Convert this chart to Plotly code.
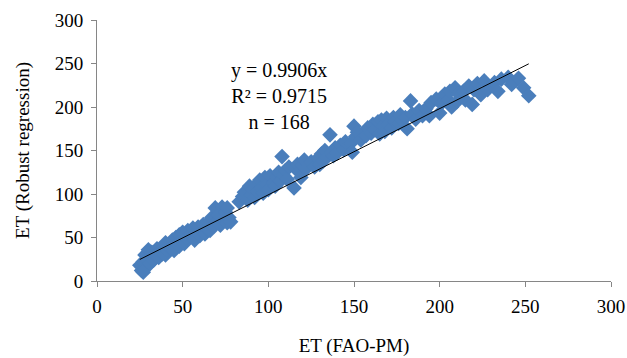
import plotly.graph_objects as go

# ET (FAO-PM) values
et_fao = [
    25, 26, 27, 28, 28, 29, 30, 31, 32, 33, 34, 35, 36, 37, 38, 39, 40, 40, 41, 27,
    42, 43, 44, 45, 46, 48, 48, 49, 50, 51, 52, 53, 55, 56, 57, 58, 59, 60, 62, 63, 64, 65,
    66, 67, 68, 69, 70, 71, 72, 73, 74, 75, 76, 76, 77, 78,
    83, 85, 86, 88, 89, 90, 91, 92, 93, 94, 95, 96, 97, 98, 99, 100, 101, 103,
    104, 105, 106, 107, 108, 109, 110, 111, 112, 115, 116, 117, 118, 119, 120, 121, 122, 125, 127, 129,
    130, 131, 132, 133, 134, 136, 137, 138, 139, 140, 142, 144, 145, 148, 149, 150, 151, 152, 154, 157, 158, 160,
    161, 162, 164, 165, 166, 167, 168, 169, 170, 172, 173, 174, 176, 177, 178, 180, 181, 183, 184, 186, 188, 190,
    192, 194, 195, 198, 200, 201, 203, 205, 206, 207, 209, 210, 211, 214, 215, 217, 219, 220, 222, 224,
    226, 228, 232, 234, 236, 240, 242, 246, 249, 252,
]
# ET (Robust regression) values
et_robust = [
    18, 12, 22, 15, 30, 25, 36, 20, 33, 24, 30, 37, 27, 35, 31, 40, 30, 44, 36, 10,
    42, 38, 47, 35, 50, 40, 53, 47, 56, 43, 50, 58, 54, 61, 47, 56, 62, 52, 65, 54, 60, 67,
    58, 73, 63, 84, 68, 76, 64, 85, 70, 79, 67, 84, 73, 68,
    91, 97, 102, 93, 109, 99, 105, 96, 111, 103, 116, 107, 101, 119, 111, 105, 121, 113,
    109, 119, 125, 115, 143, 121, 127, 117, 131, 107, 129, 134, 125, 119, 133, 139, 129, 137, 131, 141,
    134, 146, 138, 150, 142, 168, 148, 144, 153, 147, 156, 151, 160, 158, 148, 178, 166, 171, 162, 167, 176, 170,
    180, 174, 183, 169, 185, 178, 172, 187, 180, 176, 188, 183, 181, 191, 185, 188, 175, 207, 192, 186, 196, 190,
    198, 190, 205, 209, 193, 204, 215, 208, 218, 200, 222, 206, 215, 218, 208, 224, 203, 220, 227, 214,
    230, 220, 228, 218, 232, 234, 226, 233, 222, 213,
]

slope = 0.9906
r2 = 0.9715
n_obs = 168

axis_ticks = [0, 50, 100, 150, 200, 250, 300]

x_line = [min(et_fao), max(et_fao)]
y_line = [slope * v for v in x_line]

font_family = "Liberation Serif, Times New Roman, serif"

fig = go.Figure()
fig.add_trace(go.Scatter(
    x=et_fao, y=et_robust, mode="markers",
    marker=dict(symbol="diamond", size=12, color="#4A7EBB", line=dict(width=0)),
    showlegend=False, hoverinfo="skip",
))
fig.add_trace(go.Scatter(
    x=x_line, y=y_line, mode="lines",
    line=dict(color="black", width=1),
    showlegend=False, hoverinfo="skip",
))

fig.add_annotation(
    x=106, y=213, xref="x", yref="y",
    text=f"y = {slope}x<br>R² = {r2}<br>n = {n_obs}",
    showarrow=False, align="center", xanchor="center", yanchor="middle",
    font=dict(family=font_family, size=20, color="black"),
)

axis_common = dict(
    range=[0, 300], tickvals=axis_ticks, ticktext=[str(v) for v in axis_ticks],
    showgrid=False, zeroline=False, showline=True, linecolor="#868686", linewidth=1,
    ticks="outside", ticklen=5, tickcolor="#868686", tickwidth=1,
    tickfont=dict(family=font_family, size=19, color="black"),
    title_font=dict(family=font_family, size=19, color="black"),
    automargin=False,
)

fig.update_xaxes(**axis_common, title_text="ET (FAO-PM)", title_standoff=22,
                 ticklabelstandoff=3)
fig.update_yaxes(**axis_common, title_text="ET (Robust regression)", title_standoff=20,
                 ticklabelstandoff=4)

fig.update_layout(
    width=627, height=358,
    margin=dict(l=97, r=16, t=20, b=77),
    paper_bgcolor="white", plot_bgcolor="white",
)

fig.write_html("out.html")
